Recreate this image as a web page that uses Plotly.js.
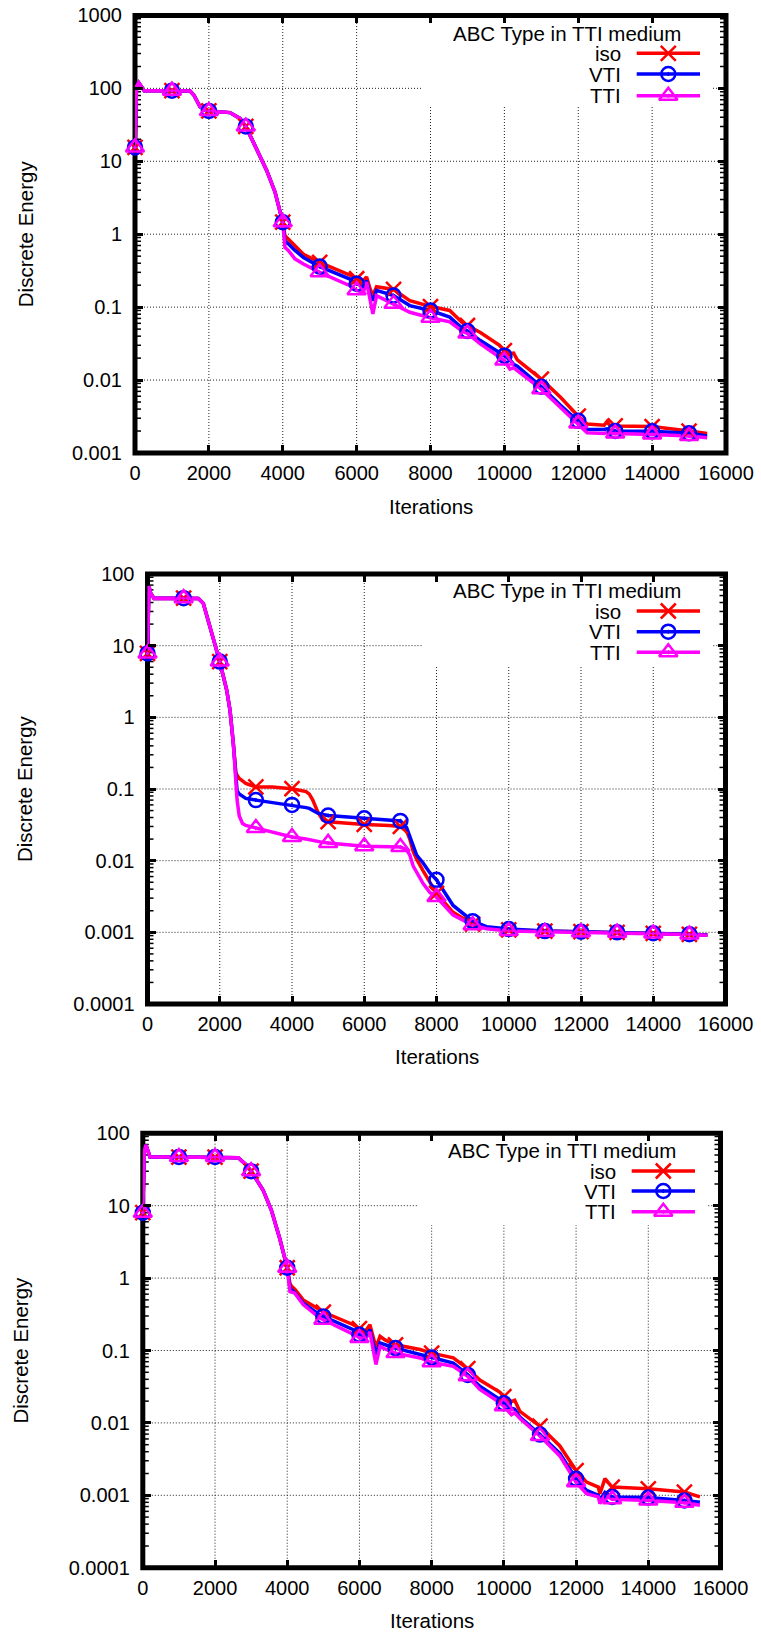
<!DOCTYPE html>
<html>
<head>
<meta charset="utf-8">
<script src="https://cdn.plot.ly/plotly-3.0.1.min.js"></script>
<style>html,body{margin:0;padding:0;background:#fff}#chart{width:761px;height:1634px}</style>
</head>
<body>
<div id="chart"></div>
<script>
// ---------------- data ----------------
const seriesNames = ['iso', 'VTI', 'TTI'];
const legendTitle = 'ABC Type in TTI medium';
const xTitle = 'Iterations';
const yTitle = 'Discrete Energy';
const xTickVals = [0, 2000, 4000, 6000, 8000, 10000, 12000, 14000, 16000];
const xTickText = ['0', '2000', '4000', '6000', '8000', '10000', '12000', '14000', '16000'];
const yTickVals1 = [0.001, 0.01, 0.1, 1, 10, 100, 1000];
const yTickText1 = ['0.001', '0.01', '0.1', '1', '10', '100', '1000'];
const yTickVals23 = [0.0001, 0.001, 0.01, 0.1, 1, 10, 100];
const yTickText23 = ['0.0001', '0.001', '0.01', '0.1', '1', '10', '100'];

// panel 1
const iter1 = [0, 40, 100, 250, 1000, 1490, 1600, 1760, 1940, 2000, 2570, 2840, 3000, 3340, 3565, 3790, 3925, 4000, 4060, 4150, 4330, 4560, 5000, 5820, 6000, 6180, 6270, 6360, 6440, 6540, 7000, 7440, 8000, 8520, 8880, 9000, 9350, 9870, 10000, 10150, 10250, 10350, 11000, 11520, 12000, 12240, 12700, 12780, 12850, 13000, 14000, 15000, 15490];
const iso1 = [15.5, 105, 120, 93, 93, 92, 80, 56, 49, 49, 46.5, 38.7, 30, 12.7, 7.5, 3.8, 2.1, 1.46, 0.95, 0.85, 0.68, 0.53, 0.41, 0.27, 0.245, 0.23, 0.26, 0.18, 0.145, 0.19, 0.175, 0.123, 0.102, 0.09, 0.06, 0.056, 0.045, 0.030, 0.0254, 0.0232, 0.0235, 0.019, 0.0103, 0.0058, 0.0032, 0.0025, 0.0024, 0.0027, 0.0024, 0.00235, 0.0023, 0.0020, 0.00185];
const vti1 = [15.5, 105, 120, 93, 93, 92, 80, 56, 49, 49, 46.5, 38.7, 30, 12.7, 7.5, 3.8, 2.1, 1.46, 0.8, 0.74, 0.6, 0.48, 0.36, 0.243, 0.21, 0.195, 0.23, 0.15, 0.123, 0.17, 0.144, 0.105, 0.090, 0.073, 0.05, 0.047, 0.0348, 0.024, 0.0216, 0.019, 0.0165, 0.0155, 0.0081, 0.0045, 0.00276, 0.00212, 0.0021, 0.00215, 0.00205, 0.0020, 0.00198, 0.00186, 0.00171];
const tti1 = [15.5, 105, 120, 93, 93, 92, 80, 56, 49, 49, 46.5, 38.7, 30, 12.7, 7.5, 3.8, 2.1, 1.46, 0.66, 0.6, 0.46, 0.39, 0.30, 0.197, 0.17, 0.16, 0.22, 0.13, 0.081, 0.144, 0.111, 0.085, 0.0716, 0.063, 0.046, 0.0436, 0.0313, 0.021, 0.0185, 0.0141, 0.0148, 0.0135, 0.0075, 0.0042, 0.00253, 0.0019, 0.00185, 0.0019, 0.00183, 0.00185, 0.0018, 0.00171, 0.00162];

// panel 2
const iter2 = [0, 40, 80, 180, 1000, 1406, 1545, 1730, 2000, 2192, 2284, 2376, 2422, 2445, 2480, 2540, 2630, 2720, 3000, 3460, 4000, 4390, 4480, 4575, 4713, 4850, 5000, 6000, 6700, 7000, 7170, 7260, 7355, 7450, 7630, 7815, 8000, 8460, 9000, 9385, 10000, 11000, 12000, 13000, 14000, 15000, 15500];
const iso2 = [7.8, 68, 55, 45.7, 46, 45.5, 39, 18.4, 6.0, 2.4, 1.26, 0.43, 0.25, 0.17, 0.155, 0.14, 0.13, 0.12, 0.107, 0.107, 0.101, 0.092, 0.085, 0.07, 0.048, 0.037, 0.035, 0.032, 0.031, 0.030, 0.026, 0.020, 0.0135, 0.0105, 0.0072, 0.0050, 0.0035, 0.0019, 0.0013, 0.00115, 0.00108, 0.00104, 0.00102, 0.00100, 0.00097, 0.00094, 0.00092];
const vti2 = [7.8, 68, 55, 45.7, 46, 45.5, 39, 18.4, 6.0, 2.4, 1.26, 0.43, 0.22, 0.13, 0.095, 0.085, 0.078, 0.074, 0.070, 0.065, 0.060, 0.055, 0.0536, 0.05, 0.046, 0.044, 0.0426, 0.039, 0.037, 0.0359, 0.029, 0.0218, 0.0157, 0.012, 0.0093, 0.0068, 0.0054, 0.00237, 0.00143, 0.0012, 0.00111, 0.00104, 0.00102, 0.0010, 0.00097, 0.00094, 0.00092];
const tti2 = [7.8, 68, 55, 45.7, 46, 45.5, 39, 18.4, 6.0, 2.4, 1.26, 0.43, 0.22, 0.12, 0.07, 0.042, 0.033, 0.031, 0.0285, 0.025, 0.0214, 0.020, 0.0195, 0.019, 0.0185, 0.018, 0.0177, 0.0159, 0.0157, 0.0155, 0.0143, 0.012, 0.0084, 0.0068, 0.0048, 0.0036, 0.0031, 0.00174, 0.00126, 0.00112, 0.00104, 0.00102, 0.0010, 0.00099, 0.00096, 0.00093, 0.00091];

// panel 3
const iter3 = [0, 40, 88, 200, 1000, 2000, 2640, 2870, 3000, 3330, 3560, 3795, 3930, 4000, 4075, 4120, 4210, 4443, 4905, 5000, 5830, 6000, 6150, 6290, 6380, 6457, 6570, 6707, 7000, 7680, 8000, 8600, 9000, 9335, 9895, 10000, 10210, 10300, 10445, 11000, 11550, 12000, 12290, 12615, 12660, 12800, 13000, 14000, 15000, 15430];
const iso3 = [8.0, 55, 69, 47, 47, 47, 46, 36.5, 30, 16.5, 8.7, 3.5, 1.97, 1.39, 0.85, 0.77, 0.7, 0.5, 0.366, 0.34, 0.227, 0.2, 0.18, 0.227, 0.15, 0.11, 0.157, 0.14, 0.12, 0.103, 0.092, 0.079, 0.056, 0.039, 0.0265, 0.0231, 0.0197, 0.0205, 0.0144, 0.009, 0.0048, 0.0022, 0.00152, 0.0013, 0.00105, 0.0017, 0.0013, 0.00123, 0.00111, 0.00095];
const vti3 = [8.0, 55, 69, 47, 47, 47, 46, 36.5, 30, 16.5, 8.7, 3.5, 1.97, 1.39, 0.75, 0.69, 0.63, 0.45, 0.31, 0.296, 0.194, 0.165, 0.15, 0.194, 0.12, 0.088, 0.127, 0.12, 0.108, 0.088, 0.080, 0.067, 0.046, 0.032, 0.021, 0.0187, 0.016, 0.0155, 0.012, 0.0069, 0.0038, 0.00169, 0.00117, 0.0010, 0.00086, 0.0011, 0.00095, 0.00093, 0.00085, 0.00080];
const tti3 = [8.0, 55, 69, 47, 47, 47, 46, 36.5, 30, 16.5, 8.7, 3.5, 1.97, 1.39, 0.65, 0.64, 0.62, 0.43, 0.28, 0.266, 0.165, 0.149, 0.14, 0.18, 0.1, 0.064, 0.114, 0.105, 0.092, 0.079, 0.0687, 0.0605, 0.044, 0.029, 0.019, 0.017, 0.013, 0.0138, 0.0115, 0.0066, 0.0035, 0.00152, 0.00105, 0.00095, 0.00077, 0.001, 0.00088, 0.00085, 0.00079, 0.00073];

// ---------------- layout / style ----------------
const W = 761, H = 1634;
const FONT = '"Liberation Sans", Arial, Helvetica, sans-serif';
const colors = ['#ff0000', '#0000ff', '#ff00ff'];
const symbols = ['x-thin-open', 'circle-open-dot', 'triangle-up-open-dot'];
const msizes = [15, 14, 16];
const markerEvery = 1000;
const XMAX = 16000;

const panels = [
  { x0: 135, x1: 726, y0: 15.4, y1: 453, yrange: [-3, 3], yvals: yTickVals1, ytext: yTickText1,
    box: [423, 713, 107], titleX: 567, titleY: 33.3, textRight: 623.3, rowsY: [53.3, 74, 95.7],
    sampleX: [636.7, 700], markX: 668.3, yTitleX: 25, xTitleY: 506,
    iter: iter1, series: [iso1, vti1, tti1] },
  { x0: 147.5, x1: 725.5, y0: 574, y1: 1004, yrange: [-4, 2], yvals: yTickVals23, ytext: yTickText23,
    box: [422.7, 713.3, 665], titleX: 567, titleY: 590.7, textRight: 623.3, rowsY: [611, 631.7, 652.3],
    sampleX: [636.7, 700], markX: 668.3, yTitleX: 24, xTitleY: 1056,
    iter: iter2, series: [iso2, vti2, tti2] },
  { x0: 142.8, x1: 720.5, y0: 1133.3, y1: 1567.7, yrange: [-4, 2], yvals: yTickVals23, ytext: yTickText23,
    box: [417.7, 708.3, 1225], titleX: 562, titleY: 1150, textRight: 618.3, rowsY: [1171, 1191, 1211.7],
    sampleX: [631.7, 695], markX: 663.3, yTitleX: 20, xTitleY: 1620,
    iter: iter3, series: [iso3, vti3, tti3] }
];

const data = [];
const shapes = [];
const annotations = [];
const layout = {
  width: W, height: H,
  margin: { l: 0, r: 0, t: 0, b: 0, pad: 0 },
  paper_bgcolor: '#ffffff', plot_bgcolor: 'rgba(0,0,0,0)',
  showlegend: false, hovermode: false,
  font: { family: FONT, size: 20, color: '#000' }
};

const tickStyle = { ticks: 'inside', ticklen: 8, tickwidth: 3, tickcolor: '#000', mirror: 'ticks',
  showline: false, zeroline: false, showgrid: false, fixedrange: true,
  tickfont: { family: FONT, size: 20, color: '#000' } };
const gridLine = { color: '#222', width: 1, dash: '1px,2px' };

panels.forEach((p, k) => {
  const n = k === 0 ? '' : String(k + 1);
  const xr = 'x' + n, yr = 'y' + n;
  const pw = p.x1 - p.x0, ph = p.y1 - p.y0;
  const yspan = p.yrange[1] - p.yrange[0];
  const yLo = Math.pow(10, p.yrange[0]), yHi = Math.pow(10, p.yrange[1]);

  layout['xaxis' + n] = Object.assign({}, tickStyle, {
    domain: [p.x0 / W, p.x1 / W], anchor: yr, range: [0, XMAX],
    tickmode: 'array', tickvals: xTickVals, ticktext: xTickText, ticklabelstandoff: 6
  });
  layout['yaxis' + n] = Object.assign({}, tickStyle, {
    domain: [1 - p.y1 / H, 1 - p.y0 / H], anchor: xr, type: 'log', range: p.yrange,
    tickmode: 'array', tickvals: p.yvals, ticktext: p.ytext, ticklabelstandoff: 12
  });

  // legend box limits in data units
  const boxL = (p.box[0] - p.x0) / pw * XMAX;
  const boxR = (p.box[1] - p.x0) / pw * XMAX;
  const boxB = Math.pow(10, p.yrange[1] - (p.box[2] - p.y0) / ph * yspan);

  // dotted grid (interrupted by the legend box)
  xTickVals.filter(v => v > 0 && v < XMAX).forEach(v => {
    const top = (v > boxL && v < boxR) ? boxB : yHi;
    shapes.push({ type: 'line', layer: 'below', xref: xr, yref: yr, x0: v, x1: v, y0: yLo, y1: top, line: gridLine });
  });
  p.yvals.slice(1, -1).forEach(v => {
    if (v > boxB) {
      shapes.push({ type: 'line', layer: 'below', xref: xr, yref: yr, x0: 0, x1: boxL, y0: v, y1: v, line: gridLine });
      shapes.push({ type: 'line', layer: 'below', xref: xr, yref: yr, x0: boxR, x1: XMAX, y0: v, y1: v, line: gridLine });
    } else {
      shapes.push({ type: 'line', layer: 'below', xref: xr, yref: yr, x0: 0, x1: XMAX, y0: v, y1: v, line: gridLine });
    }
  });

  // thick frame
  shapes.push({ type: 'rect', xref: xr + ' domain', yref: yr + ' domain', layer: 'below',
    x0: 0, x1: 1, y0: 0, y1: 1, fillcolor: 'rgba(0,0,0,0)', line: { color: '#000', width: 5 } });

  // log minor ticks on both vertical borders
  const mt = 6 / pw;
  p.yvals.slice(0, -1).forEach(d => {
    for (let m = 2; m <= 9; m++) {
      const v = d * m;
      shapes.push({ type: 'line', layer: 'below', xref: xr + ' domain', yref: yr, x0: 0, x1: mt, y0: v, y1: v,
        line: { color: '#000', width: 1.5 } });
      shapes.push({ type: 'line', layer: 'below', xref: xr + ' domain', yref: yr, x0: 1 - mt, x1: 1, y0: v, y1: v,
        line: { color: '#000', width: 1.5 } });
    }
  });

  // data lines, then markers every 1000 iterations
  p.series.forEach((vals, s) => {
    data.push({ type: 'scatter', mode: 'lines', x: p.iter, y: vals, xaxis: xr, yaxis: yr,
      line: { color: colors[s], width: 3.5 }, hoverinfo: 'skip' });
  });
  p.series.forEach((vals, s) => {
    const idx = p.iter.map((t, i) => (t % markerEvery === 0 ? i : -1)).filter(i => i >= 0);
    data.push({ type: 'scatter', mode: 'markers', x: idx.map(i => p.iter[i]), y: idx.map(i => vals[i]),
      xaxis: xr, yaxis: yr, cliponaxis: false, hoverinfo: 'skip',
      marker: { symbol: symbols[s], size: msizes[s], color: colors[s], line: { color: colors[s], width: 2.5 } } });
  });

  // legend (text left of key, like gnuplot)
  annotations.push({ xref: 'paper', yref: 'paper', x: p.titleX / W, y: 1 - p.titleY / H, text: legendTitle,
    showarrow: false, xanchor: 'center', yanchor: 'middle', font: { family: FONT, size: 20.5, color: '#000' } });
  seriesNames.forEach((name, s) => {
    annotations.push({ xref: 'paper', yref: 'paper', x: p.textRight / W, y: 1 - p.rowsY[s] / H, text: name,
      showarrow: false, xanchor: 'right', yanchor: 'middle', font: { family: FONT, size: 20.5, color: '#000' } });
    data.push({ type: 'scatter', mode: 'lines', x: p.sampleX, y: [p.rowsY[s], p.rowsY[s]], xaxis: 'x4', yaxis: 'y4',
      line: { color: colors[s], width: 3.5 }, hoverinfo: 'skip', cliponaxis: false });
    data.push({ type: 'scatter', mode: 'markers', x: [p.markX], y: [p.rowsY[s]], xaxis: 'x4', yaxis: 'y4',
      cliponaxis: false, hoverinfo: 'skip',
      marker: { symbol: symbols[s], size: msizes[s], color: colors[s], line: { color: colors[s], width: 2.5 } } });
  });

  // axis titles
  annotations.push({ xref: 'paper', yref: 'paper', x: p.yTitleX / W, y: 1 - (p.y0 + p.y1) / 2 / H, text: yTitle,
    textangle: -90, showarrow: false, xanchor: 'center', yanchor: 'middle', font: { family: FONT, size: 20.5, color: '#000' } });
  annotations.push({ xref: 'paper', yref: 'paper', x: (p.x0 + p.x1) / 2 / W, y: 1 - p.xTitleY / H, text: xTitle,
    showarrow: false, xanchor: 'center', yanchor: 'middle', font: { family: FONT, size: 20.5, color: '#000' } });
});

// overlay pixel-space axes for the legend keys
layout.xaxis4 = { domain: [0, 1], range: [0, W], anchor: 'y4', visible: false, fixedrange: true };
layout.yaxis4 = { domain: [0, 1], range: [H, 0], anchor: 'x4', visible: false, fixedrange: true };
layout.shapes = shapes;
layout.annotations = annotations;

Plotly.newPlot('chart', data, layout, { staticPlot: true, displayModeBar: false });
</script>
</body>
</html>
